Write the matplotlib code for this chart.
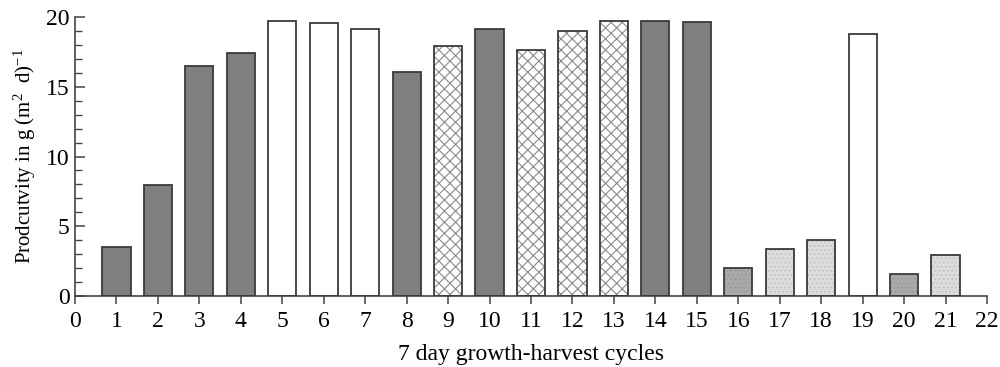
import matplotlib
matplotlib.use("Agg")
import matplotlib.pyplot as plt
from matplotlib.ticker import MultipleLocator

cycles = list(range(1, 22))
productivity = [3.5, 7.95, 16.5, 17.4, 19.7, 19.55, 19.15, 16.05, 17.9, 19.1,
                17.65, 19.0, 19.7, 19.7, 19.6, 2.0, 3.35, 4.05, 18.8, 1.6, 2.95]
# style group per bar
groups = ["dark", "dark", "dark", "dark", "white", "white", "white", "dark", "cross", "dark",
          "cross", "cross", "cross", "dark", "dark", "mid", "light", "light", "white", "mid", "light"]
xticks = list(range(0, 23))
yticks = [0, 5, 10, 15, 20]
xlabel = "7 day growth-harvest cycles"
ylabel = r"Prodcutvity in g (m$^2$  d)$^{-1}$"

plt.rcParams["font.family"] = ["Liberation Serif", "DejaVu Serif"]
plt.rcParams["mathtext.fontset"] = "custom"
plt.rcParams["mathtext.rm"] = "Liberation Serif"
plt.rcParams["mathtext.it"] = "Liberation Serif:italic"
plt.rcParams["hatch.linewidth"] = 0.8

fig = plt.figure(figsize=(10, 3.67), dpi=100)
ax = fig.add_axes([0.075, 0.193, 0.912, 0.761])

fills = {"dark": "#7f7f7f", "white": "white", "cross": "white", "mid": "#a9a9a9", "light": "#dcdcdc"}
width = 0.68
for x, v, g in zip(cycles, productivity, groups):
    if g == "cross":
        ax.bar(x, v, width=width, color="white", edgecolor="#8a8a8a", hatch="xxx", linewidth=0, zorder=2)
    elif g in ("mid", "light"):
        ax.bar(x, v, width=width, color=fills[g], edgecolor="#999999" if g == "mid" else "#c4c4c4",
               hatch="....", linewidth=0, zorder=2)
    else:
        ax.bar(x, v, width=width, color=fills[g], linewidth=0, zorder=2)
    ax.bar(x, v, width=width, fill=False, edgecolor="#3a3a3a", linewidth=1.3, zorder=3)

ax.set_xlim(0, 22)
ax.set_ylim(0, 20)
ax.set_xticks(xticks)
ax.set_yticks(yticks)
ax.yaxis.set_minor_locator(MultipleLocator(1))
for s in ["top", "right"]:
    ax.spines[s].set_visible(False)
for s in ["left", "bottom"]:
    ax.spines[s].set_color("#444444")
    ax.spines[s].set_linewidth(1.2)
ax.tick_params(axis="x", which="major", direction="out", length=6, width=1.1, color="#444444",
               labelsize=17, pad=5)
ax.tick_params(axis="y", which="major", direction="in", length=7, width=1.1, color="#444444",
               labelsize=17, pad=4)
ax.tick_params(axis="y", which="minor", direction="in", length=5, width=1.0, color="#444444")
ax.set_xlabel(xlabel, fontsize=17, labelpad=8)
ax.set_ylabel(ylabel, fontsize=15)
ax.yaxis.set_label_coords(-0.041, 0.5)

fig.savefig("out.png", dpi=100)
